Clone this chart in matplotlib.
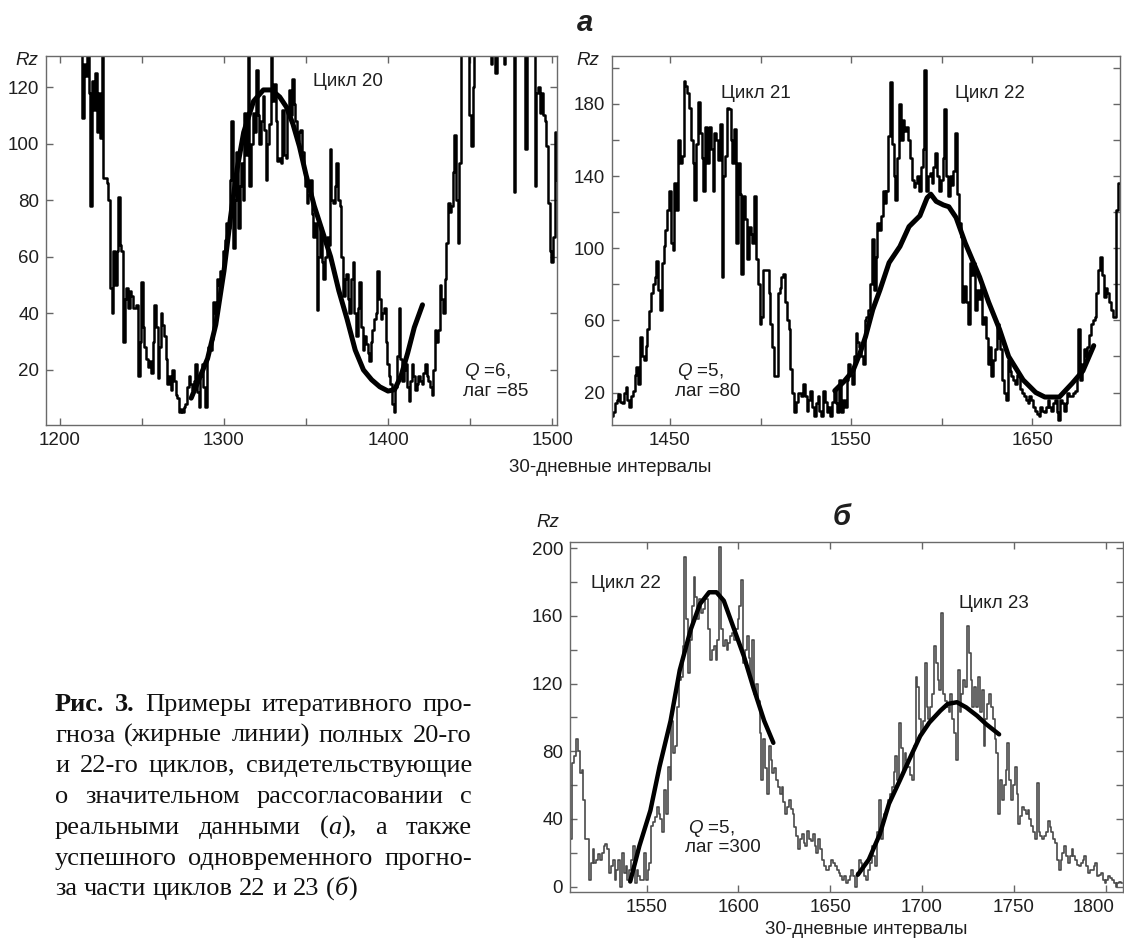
import re
import numpy as np
import matplotlib
matplotlib.use("Agg")
import matplotlib.pyplot as plt

plt.rcParams['font.family'] = ['Liberation Sans', 'DejaVu Sans']
plt.rcParams['mathtext.fontset'] = 'custom'
plt.rcParams['mathtext.rm'] = 'Liberation Sans'
plt.rcParams['mathtext.it'] = 'Liberation Sans:italic'

# --- data: monthly (30-day) sunspot number Rz ---
# panel a, left: cycle 20
start_a1 = 1213
rz_a1 = [150, 109, 128, 124, 140, 118, 78, 122, 112, 125,
         104, 118, 102, 140, 88, 88, 86, 80, 49, 40,
         62, 50, 62, 81, 64, 62, 30, 45, 49, 42,
         48, 46, 42, 42, 43, 18, 30, 51, 35, 28,
         24, 21, 23, 19, 30, 43, 35, 17, 28, 40,
         36, 32, 24, 15, 18, 13, 20, 16, 11, 10,
         5, 6, 5, 7, 8, 14, 18, 15, 13, 16,
         22, 12, 7, 18, 22, 14, 7, 25, 28, 27,
         31, 44, 40, 52, 50, 55, 53, 62, 66, 72,
         70, 87, 108, 63, 80, 97, 70, 85, 93, 80,
         111, 96, 135, 85, 100, 111, 104, 126, 110, 100,
         108, 117, 105, 87, 100, 107, 135, 115, 121, 108,
         94, 95, 93, 112, 96, 95, 113, 119, 110, 123,
         114, 108, 101, 104, 105, 97, 90, 85, 79, 82,
         87, 75, 67, 72, 41, 60, 70, 58, 52, 60,
         67, 64, 98, 80, 79, 85, 93, 80, 78, 60,
         46, 52, 54, 45, 40, 52, 58, 40, 32, 42,
         51, 35, 27, 32, 29, 26, 23, 30, 34, 38,
         40, 55, 45, 38, 40, 42, 30, 22, 18, 15,
         8, 5, 14, 25, 42, 24, 16, 20, 22, 14,
         9, 16, 22, 18, 13, 15, 18, 16, 15, 19,
         22, 18, 16, 14, 11, 20, 34, 30, 34, 50,
         45, 40, 52, 65, 79, 76, 78, 90, 103, 80,
         65, 93, 140, 145, 135, 150, 140, 110, 99, 120,
         140, 150, 145, 140, 150, 145, 140, 150, 145, 140,
         128, 140, 150, 125, 145, 150, 140, 145, 128, 140,
         150, 145, 140, 150, 83, 140, 150, 145, 140, 150,
         145, 98, 140, 150, 145, 135, 140, 85, 118, 120,
         111, 118, 110, 108, 99, 79, 62, 58, 67, 104, 87]
fc_a1_x = [1280, 1285, 1290, 1295, 1300, 1304, 1308, 1312, 1318, 1324, 1329,
           1334, 1338, 1342, 1346, 1350, 1355, 1360, 1365, 1370, 1375, 1380,
           1385, 1390, 1395, 1400, 1404, 1408, 1412, 1416, 1421]
fc_a1_rz = [10, 17, 24, 36, 55, 74, 91, 104, 115, 119, 119,
            116.5, 113, 107, 99, 89, 78, 69, 60, 48, 38, 27,
            20, 16.5, 14, 12.5, 13, 18, 26, 35, 43]

# panel a, right: cycles 21 and 22
start_a2 = 1418
rz_a2 = [7, 9, 14, 16, 19, 15, 14, 20, 23, 16,
         12, 18, 21, 30, 34, 25, 51, 40, 38, 46,
         55, 65, 75, 80, 84, 93, 77, 66, 92, 101,
         110, 121, 132, 103, 99, 136, 121, 160, 147, 151,
         193, 190, 186, 178, 160, 147, 127, 158, 181, 164,
         150, 132, 167, 147, 167, 155, 132, 164, 160, 149,
         169, 84, 140, 151, 178, 177, 160, 147, 166, 103,
         147, 130, 86, 129, 116, 94, 112, 108, 103, 129,
         94, 80, 58, 62, 88, 88, 88, 75, 58, 45,
         29, 29, 75, 78, 84, 86, 70, 60, 55, 33,
         20, 9, 15, 20, 20, 18, 25, 18, 10, 16,
         21, 12, 7, 14, 18, 10, 7, 21, 15, 9,
         12, 7, 15, 21, 14, 9, 27, 9, 16, 12,
         27, 36, 30, 25, 40, 53, 48, 45, 40, 36,
         60, 62, 66, 80, 105, 77, 95, 114, 110, 118,
         132, 125, 132, 162, 192, 158, 140, 127, 150, 180,
         160, 171, 165, 167, 160, 150, 138, 134, 136, 140,
         132, 145, 155, 199, 132, 140, 142, 136, 145, 153,
         140, 132, 138, 150, 177, 140, 129, 140, 135, 143,
         164, 130, 114, 106, 70, 79, 70, 58, 92, 85,
         92, 66, 77, 72, 81, 58, 62, 50, 36, 45,
         29, 38, 44, 58, 50, 44, 27, 20, 16, 38,
         32, 29, 27, 25, 30, 29, 22, 20, 18, 16,
         14, 18, 16, 12, 10, 8, 7, 12, 10, 9,
         12, 16, 12, 10, 14, 16, 9, 5, 16, 14,
         10, 14, 20, 18, 18, 20, 21, 29, 55, 27,
         36, 44, 40, 45, 52, 58, 60, 62, 75, 88,
         95, 85, 73, 78, 75, 70, 66, 62, 62, 121, 136]
fc_a2_x = [1541, 1546, 1551, 1555, 1558, 1562, 1566, 1571, 1577, 1582, 1588,
           1592, 1594, 1597, 1601, 1604, 1608, 1613, 1621, 1626, 1632, 1637,
           1645, 1652, 1657, 1665, 1672, 1678, 1684]
fc_a2_rz = [21, 26, 32, 42, 51, 66, 77, 92, 101, 112, 118,
            128, 130, 126, 124, 123, 117, 103, 84, 70, 55, 40,
            27, 20, 17.5, 17.5, 25, 32, 46]

# panel b: cycles 22 and 23
start_b = 1509
rz_b = [28, 73, 77, 87, 80, 67, 69, 51, 28, 28,
        4, 14, 22, 14, 16, 19, 16, 20, 24, 25,
        22, 8, 12, 16, 4, 10, 16, 0, 20, 8,
        12, 4, 10, 16, 24, 2, 10, 6, 4, 4,
        20, 4, 10, 14, 36, 38, 41, 47, 43, 40,
        32, 57, 43, 71, 63, 98, 79, 83, 106, 122,
        124, 142, 195, 158, 126, 146, 166, 183, 171, 158,
        170, 162, 164, 171, 170, 152, 134, 140, 142, 134,
        146, 201, 152, 142, 146, 140, 144, 148, 150, 146,
        152, 158, 166, 181, 132, 140, 148, 135, 122, 146,
        114, 120, 110, 91, 63, 87, 70, 55, 83, 75,
        67, 70, 63, 59, 55, 59, 50, 43, 47, 51,
        46, 43, 35, 30, 22, 28, 31, 26, 24, 33,
        28, 27, 31, 24, 20, 28, 22, 16, 12, 10,
        10, 12, 16, 14, 12, 10, 8, 6, 4, 6,
        2, 4, 6, 10, 6, 0, 8, 16, 14, 12,
        6, 4, 10, 14, 24, 18, 12, 32, 51, 28,
        39, 43, 45, 51, 55, 59, 68, 77, 63, 97,
        82, 69, 79, 75, 71, 66, 63, 83, 124, 118,
        99, 91, 98, 132, 106, 99, 106, 114, 142, 132,
        122, 116, 162, 114, 110, 106, 103, 114, 99, 91,
        75, 128, 103, 114, 122, 118, 154, 138, 122, 106,
        118, 106, 124, 103, 116, 83, 99, 108, 114, 106,
        99, 87, 79, 43, 63, 51, 60, 69, 85, 63,
        51, 60, 71, 55, 37, 42, 47, 45, 43, 45,
        40, 36, 32, 28, 61, 32, 30, 28, 30, 32,
        39, 35, 32, 28, 26, 16, 10, 16, 20, 24,
        18, 14, 18, 22, 18, 16, 13, 12, 14, 16,
        18, 12, 8, 10, 10, 12, 14, 6, 7, 8,
        4, 2, 4, 6, 5, 4, 2, 0, 2, 3, 2]
fc_b22_x = [1541, 1546, 1552, 1557, 1563, 1568, 1574, 1579, 1584, 1588,
            1592, 1597, 1603, 1608, 1614, 1619]
fc_b22_rz = [3, 24, 45, 71, 98, 128, 152, 167, 174, 174,
             169, 154, 136, 118, 98, 85]
fc_b23_x = [1665, 1671, 1677, 1682, 1688, 1693, 1699, 1704, 1710, 1714,
            1719, 1724, 1730, 1735, 1742]
fc_b23_rz = [7, 16, 31, 49, 63, 75, 89, 97, 104, 108,
             109, 106, 101, 96, 90]

# ticks
xt_a1 = [1200, 1250, 1300, 1350, 1400, 1450, 1500]
xl_a1 = ['1200', '', '1300', '', '1400', '', '1500']
yt_a1 = [20, 40, 60, 80, 100, 120]
yl_a1 = ['20', '40', '60', '80', '100', '120']
xt_a2 = [1450, 1500, 1550, 1600, 1650]
xl_a2 = ['1450', '', '1550', '', '1650']
yt_a2 = [20, 40, 60, 80, 100, 120, 140, 160, 180, 200]
yl_a2 = ['20', '', '60', '', '100', '', '140', '', '180', '']
xt_b = [1550, 1600, 1650, 1700, 1750, 1800]
xl_b = ['1550', '1600', '1650', '1700', '1750', '']
yt_b = [0, 20, 40, 60, 80, 100, 120, 140, 160, 180, 200]
yl_b = ['0', '', '40', '', '80', '', '120', '', '160', '', '200']

caption = [
    "**Рис.** **3.** Примеры итеративного про-",
    "гноза (жирные линии) полных 20-го",
    "и 22-го циклов, свидетельствующие",
    "о значительном рассогласовании с",
    "реальными данными (*а*), а также",
    "успешного одновременного прогно-",
    "за части циклов 22 и 23 (*б*)",
]

W, H = 1124, 938
fig = plt.figure(figsize=(W / 100, H / 100), dpi=100)
TXT = '#1e1e1e'
FS = 13.5


def fx(x):
    return x / W


def fy(y):
    return 1 - y / H


def px_axes(l, t, r, b):
    return fig.add_axes([l / W, 1 - b / H, (r - l) / W, (b - t) / H])


def style(ax, xlim, ylim, xt, xl, yt, yl):
    ax.set_xlim(xlim)
    ax.set_ylim(ylim)
    ax.set_xticks(xt, labels=xl)
    ax.set_yticks(yt, labels=yl)
    ax.tick_params(direction='in', length=5, width=1, color='#666',
                   top=True, right=True, labelsize=FS, labelcolor=TXT, pad=5)
    for s in ax.spines.values():
        s.set_color('#6a6a6a')
        s.set_linewidth(1.0)


ax1 = px_axes(46, 56, 557, 425)
x1 = np.arange(start_a1, start_a1 + len(rz_a1))
ax1.plot(x1, rz_a1, color='black', lw=1.8, drawstyle='steps-mid')
ax1.plot(fc_a1_x, fc_a1_rz, color='black', lw=3.6, solid_capstyle='round')
style(ax1, (1191.5, 1503), (0.5, 131), xt_a1, xl_a1, yt_a1, yl_a1)

ax2 = px_axes(612, 56, 1120, 425)
x2 = np.arange(start_a2, start_a2 + len(rz_a2))
ax2.plot(x2, rz_a2, color='black', lw=1.8, drawstyle='steps-mid')
ax2.plot(fc_a2_x, fc_a2_rz, color='black', lw=3.6, solid_capstyle='round')
style(ax2, (1418, 1698.5), (2, 206.6), xt_a2, xl_a2, yt_a2, yl_a2)

ax3 = px_axes(570, 541.5, 1123, 891.7)
xb = np.arange(start_b, start_b + len(rz_b))
ax3.plot(xb, rz_b, color='#4a4a4a', lw=1.2, drawstyle='steps-mid')
ax3.plot(fc_b22_x, fc_b22_rz, color='black', lw=3.2, solid_capstyle='round')
ax3.plot(fc_b23_x, fc_b23_rz, color='black', lw=3.2, solid_capstyle='round')
style(ax3, (1508.2, 1809.5), (-3, 204), xt_b, xl_b, yt_b, yl_b)
# last label sits left of its tick so it stays inside the figure
ax3.annotate('1800', xy=(1800, 0), xycoords=('data', 'axes fraction'),
             xytext=(-8.5, -5), textcoords='offset points',
             ha='center', va='top', fontsize=FS, color=TXT)

# panel letters, axis names, labels
fig.text(fx(585), fy(23), 'а', fontsize=21, fontweight='bold', style='italic',
         ha='center', va='center', color=TXT)
fig.text(fx(842), fy(517), 'б', fontsize=21, fontweight='bold', style='italic',
         ha='center', va='center', color=TXT)
for x, y in [(27, 60), (588, 60), (548, 522)]:
    fig.text(fx(x), fy(y), 'Rz', fontsize=FS, style='italic',
             ha='center', va='center', color=TXT)
fig.text(fx(610), fy(467), '30-дневные интервалы', fontsize=FS,
         ha='center', va='center', color=TXT)
fig.text(fx(866), fy(929), '30-дневные интервалы', fontsize=FS,
         ha='center', va='center', color=TXT)

for x, y, s in [(348, 82, 'Цикл 20'), (756, 94, 'Цикл 21'), (990, 94, 'Цикл 22'),
                (626, 583, 'Цикл 22'), (994, 603, 'Цикл 23')]:
    fig.text(fx(x), fy(y), s, fontsize=FS, ha='center', va='center', color=TXT)

for x, y, s in [(464, 371, '$Q$ =6,'), (463, 391, 'лаг =85'),
                (677, 371, '$Q$ =5,'), (675, 391, 'лаг =80'),
                (688, 828, '$Q$ =5,'), (685, 847, 'лаг =300')]:
    fig.text(fx(x), fy(y), s, fontsize=FS, ha='left', va='center', color=TXT)

# caption, justified between two margins
renderer = fig.canvas.get_renderer()
CAP_FS = 19
cap_kw = dict(family=['Liberation Serif', 'DejaVu Serif'], fontsize=CAP_FS, color='#111111')
cap_left, cap_right = 55, 472
cap_base, cap_step = 711, 30.7


def word_runs(word):
    runs = []
    for piece in re.split(r'(\*\*[^*]+\*\*|\*[^*]+\*)', word):
        if not piece:
            continue
        if piece.startswith('**'):
            runs.append((piece[2:-2], 'bold', 'normal'))
        elif piece.startswith('*'):
            runs.append((piece[1:-1], 'normal', 'italic'))
        else:
            runs.append((piece, 'normal', 'normal'))
    return runs


for i, line in enumerate(caption):
    y = cap_base + i * cap_step
    words = []
    for w in line.split(' '):
        texts = []
        width = 0
        for s, weight, st in word_runs(w):
            t = fig.text(0, fy(y), s, fontweight=weight, style=st,
                         va='baseline', ha='left', **cap_kw)
            wd = t.get_window_extent(renderer).width
            texts.append((t, width))
            width += wd
        words.append((texts, width))
    total = sum(wd for _, wd in words)
    if i < len(caption) - 1:
        gap = (cap_right - cap_left - total) / (len(words) - 1)
    else:
        gap = 0.25 * CAP_FS * 100 / 72
    x = cap_left
    for texts, wd in words:
        for t, off in texts:
            t.set_x(fx(x + off))
        x += wd + gap

fig.savefig('out.png', dpi=100)
